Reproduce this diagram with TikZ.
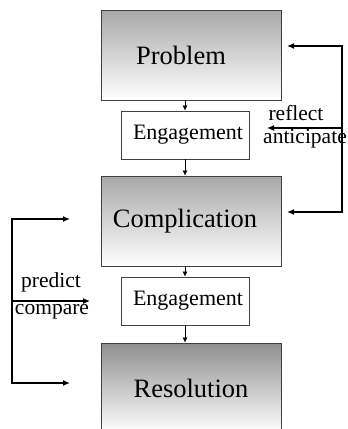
\documentclass[tikz,border=0pt]{standalone}
\usepackage{fontspec}
\setmainfont{Liberation Serif}
\usetikzlibrary{arrows.meta, positioning}
\definecolor{boxgray}{HTML}{A8A8A8}
\definecolor{edgegray}{HTML}{404040}

\begin{document}
\begin{tikzpicture}[
    x=1pt, y=-1pt,
    >={Latex[length=7pt, width=6pt]},
    stagenode/.style={draw=edgegray, line width=0.9pt, inner sep=0pt,
      minimum width=180pt, minimum height=90pt, top color=boxgray, bottom color=white,
      font=\fontsize{26.5}{30}\selectfont},
    engnode/.style={draw=edgegray, line width=0.9pt, fill=white, inner sep=0pt,
      minimum width=128pt, minimum height=48pt, font=\fontsize{22}{26}\selectfont},
    loopline/.style={line width=1.8pt},
    stepline/.style={line width=0.7pt, -{Latex[length=5pt, width=5pt]}},
    looplabel/.style={font=\fontsize{21.5}{25}\selectfont, inner sep=0pt, anchor=base},
  ]
  \useasboundingbox (0,0) rectangle (348,429);
  \clip (0,0) rectangle (348,429);

  % Stages
  \node[stagenode] (problem) at (191,55) {\hspace*{-20pt}Problem};
  \node[engnode] (engone) at (185,135) {\hspace*{6pt}Engagement};
  \node[stagenode] (complication) at (191,221) {\hspace*{-12pt}Complication};
  \node[engnode] (engtwo) at (185,301) {\hspace*{6pt}Engagement};
  \node[stagenode, top color=boxgray!85!black] (resolution) at (191,388) {Resolution};

  % Steps between stages
  \draw[stepline] (engone.north |- problem.south) -- (engone.north);
  \draw[stepline] (engone.south) -- (engone.south |- complication.north);
  \draw[stepline] (engtwo.north |- complication.south) -- (engtwo.north);
  \draw[stepline] (engtwo.south) -- (engtwo.south |- resolution.north);

  % Loop labels
  \node[looplabel] (reflect) at (296,120) {reflect};
  \node[looplabel] (anticipate) at (305,143) {anticipate};
  \node[looplabel] (predict) at (51,287) {predict};
  \node[looplabel] (compare) at (52,314) {compare};

  % Right loop
  \coordinate (rtop) at (342,46);
  \coordinate (rmid) at (342,128);
  \coordinate (rbot) at (342,212);
  \coordinate (ptip) at (287,46);
  \coordinate (etip) at (267,128);
  \coordinate (ctip) at (287,212);
  \draw[loopline, <->] (ptip) -- (rtop) -- (rbot) -- (ctip);
  \draw[loopline, ->] (rmid) -- (etip);

  % Left loop
  \coordinate (ltop) at (12,219);
  \coordinate (lmid) at (12,301);
  \coordinate (lbot) at (12,383);
  \coordinate (ctipl) at (70,219);
  \coordinate (etipl) at (90,301);
  \coordinate (rtipl) at (70,383);
  \draw[loopline, <->] (ctipl) -- (ltop) -- (lbot) -- (rtipl);
  \draw[loopline, ->] (lmid) -- (etipl);

\end{tikzpicture}
\end{document}
